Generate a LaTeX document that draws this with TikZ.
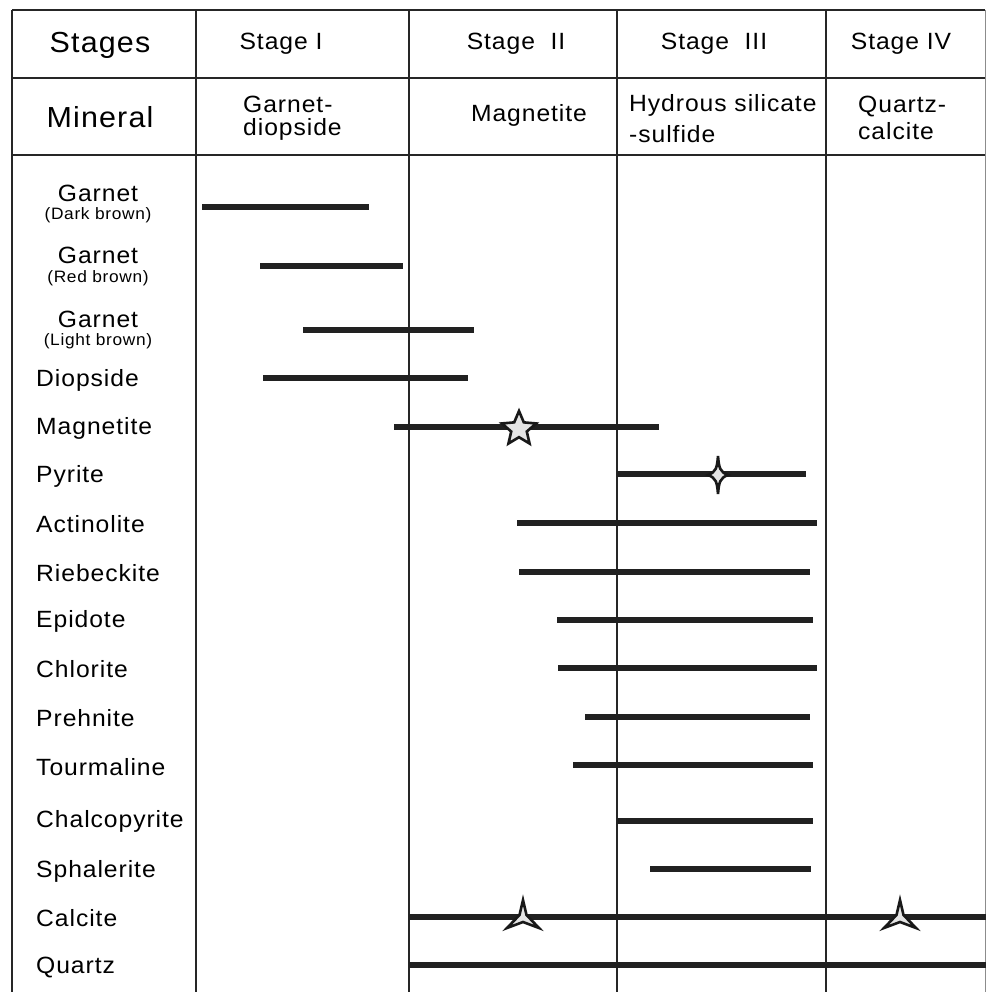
\documentclass[tikz,border=0pt]{standalone}
\usepackage{fontspec}
\setmainfont{Liberation Sans}[LetterSpace=4,FakeStretch=1.05]
\usetikzlibrary{shapes.geometric}
\tikzset{
  grid/.style={line width=2pt,draw=black!85},
  bar/.style={line width=6pt,draw=black!87},
  big/.style={font=\fontsize{29}{33}\selectfont,inner sep=0pt,anchor=base},
  hd/.style={font=\fontsize{23.5}{27}\selectfont,inner sep=0pt,anchor=base},
  hdw/.style={font=\fontsize{23.5}{27}\selectfont,inner sep=0pt,anchor=base west},
  lab/.style={font=\fontsize{23.5}{27}\selectfont,inner sep=0pt,anchor=base west},
  sub/.style={font=\fontsize{16.5}{19}\selectfont,inner sep=0pt,anchor=base},
  starfill/.style={draw=black!90,line width=2.6pt,fill=black!10,line join=miter},
}
\begin{document}
\begin{tikzpicture}[x=1pt,y=-1pt]
\useasboundingbox (0,0) rectangle (986,992);
% grid
\draw[grid] (12,10) -- (985,10);
\draw[grid] (12,78) -- (985,78);
\draw[grid] (12,155) -- (985,155);
\foreach \x in {12,196,409,617,826} \draw[grid] (\x,10) -- (\x,992);
\draw[line width=1pt,draw=black!45] (985,10) -- (985,992);
% header
\node[big] (hstages) at (100,53) {Stages};
\node[big] (hmineral) at (100,128) {Mineral};
\node[hd] (s1) at (281,50) {Stage I};
\node[hd] (s2) at (516,50) {Stage\ \ II};
\node[hd] (s3) at (714,50) {Stage\ \ III};
\node[hd] (s4) at (901,50) {Stage IV};
\node[hdw] (m1a) at (243,113) {Garnet-};
\node[hdw] (m1b) at (243,136) {diopside};
\node[hd] (m2) at (529,122) {Magnetite};
\node[hdw] (m3a) at (629,112) {Hydrous silicate};
\node[hdw] (m3b) at (629,143) {-sulfide};
\node[hdw] (m4a) at (858,113) {Quartz-};
\node[hdw] (m4b) at (858,140) {calcite};
% mineral labels
\node[hd] (g1) at (98,202) {Garnet};
\node[sub] (g1s) at (98,220) {(Dark brown)};
\node[hd] (g2) at (98,263) {Garnet};
\node[sub] (g2s) at (98,282) {(Red brown)};
\node[hd] (g3) at (98,327) {Garnet};
\node[sub] (g3s) at (98,345) {(Light brown)};
\node[lab] (l4) at (36,386) {Diopside};
\node[lab] (l5) at (36,434) {Magnetite};
\node[lab] (l6) at (36,482) {Pyrite};
\node[lab] (l7) at (36,532) {Actinolite};
\node[lab] (l8) at (36,581) {Riebeckite};
\node[lab] (l9) at (36,627) {Epidote};
\node[lab] (l10) at (36,677) {Chlorite};
\node[lab] (l11) at (36,726) {Prehnite};
\node[lab] (l12) at (36,775) {Tourmaline};
\node[lab] (l13) at (36,827) {Chalcopyrite};
\node[lab] (l14) at (36,877) {Sphalerite};
\node[lab] (l15) at (36,926) {Calcite};
\node[lab] (l16) at (36,973) {Quartz};
% bars
\draw[bar] (202,207) -- (369,207);
\draw[bar] (260,266) -- (403,266);
\draw[bar] (303,330) -- (474,330);
\draw[bar] (263,378) -- (468,378);
\draw[bar] (394,427) -- (659,427);
\draw[bar] (617,474) -- (806,474);
\draw[bar] (517,523) -- (817,523);
\draw[bar] (519,572) -- (810,572);
\draw[bar] (557,620) -- (813,620);
\draw[bar] (558,668) -- (817,668);
\draw[bar] (585,717) -- (810,717);
\draw[bar] (573,765) -- (813,765);
\draw[bar] (617,821) -- (813,821);
\draw[bar] (650,869) -- (811,869);
\draw[bar] (409,917) -- (986,917);
\draw[bar] (409,965) -- (986,965);
% five-point star (magnetite)
\node[star,star points=5,star point ratio=2.2,minimum size=36pt,inner sep=0pt,starfill] (st1) at (519,429) {};
% four-point star (pyrite)
\draw[starfill] (718,456) .. controls (719,468) and (720,472) .. (728,475)
  .. controls (720,478) and (719,482) .. (718,494)
  .. controls (717,482) and (716,478) .. (708,475)
  .. controls (716,472) and (717,468) .. (718,456) -- cycle;
% three-point stars (calcite)
\foreach \cx in {523,900}{
  \draw[starfill] (\cx,900) -- (\cx+3.5,915) -- (\cx+16,928) -- (\cx,922) -- (\cx-16,928) -- (\cx-3.5,915) -- cycle;
}
\end{tikzpicture}
\end{document}
